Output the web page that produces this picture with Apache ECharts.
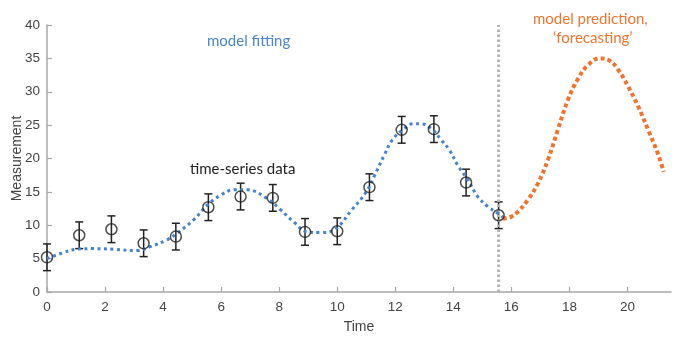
<!DOCTYPE html>
<html>
<head>
<meta charset="utf-8">
<script src="https://cdn.jsdelivr.net/npm/echarts@6/dist/echarts.min.js"></script>
<style>
  html, body { margin: 0; padding: 0; background: #fff; }
  #main { width: 698px; height: 345px; }
</style>
</head>
<body>
<div id="main"></div>
<script>
// measured time-series (circles + error bars)
var times = [0, 1.11, 2.22, 3.33, 4.44, 5.56, 6.67, 7.78, 8.89, 10, 11.11, 12.22, 13.33, 14.44, 15.56];
var measured = [5.2, 8.5, 9.4, 7.3, 8.3, 12.7, 14.3, 14.1, 9.0, 9.1, 15.7, 24.3, 24.4, 16.4, 11.5];
var errors = [2, 2, 2, 2, 2, 2, 2, 2, 2, 2, 2, 2, 2, 2, 2];

// model fit (blue dotted)
var fitX = [0, 0.5, 1.0, 1.6, 2.3, 3.1, 3.56, 4.13, 4.48, 5.05, 5.52, 5.98, 6.44, 6.9, 7.59, 8.05, 8.5, 8.97, 9.43, 9.89,
  10.5, 11.0, 11.27, 11.62, 11.9, 12.31, 12.6, 12.88, 13.29, 13.58, 13.86, 14.15, 14.5, 14.84, 15.19, 15.53, 15.7];
var fitY = [5.0, 5.8, 6.4, 6.5, 6.4, 6.2, 6.8, 7.8, 8.8, 10.8, 13.0, 14.5, 15.3, 15.3, 14.0, 12.3, 10.5, 9.0, 8.9, 9.3,
  12.3, 15.0, 17.3, 20.5, 22.8, 24.5, 25.2, 25.2, 24.3, 22.8, 21.3, 19.0, 16.8, 14.3, 12.8, 11.8, 11.2];

// forecast (orange dotted)
var predX = [15.7, 16.0, 16.22, 16.57, 16.92, 17.26, 17.6, 17.95, 18.3, 18.64, 19.04, 19.33, 19.68, 20.02, 20.37, 20.71, 21.06, 21.25];
var predY = [11.0, 11.3, 12.0, 13.8, 16.3, 19.8, 24.3, 28.8, 32.0, 34.0, 35.0, 34.8, 33.3, 30.8, 27.8, 24.3, 20.6, 18.0];

var xTicks = [0, 2, 4, 6, 8, 10, 12, 14, 16, 18, 20];
var splitX = times[times.length - 1];

function pairs(xs, ys) {
  var out = [];
  for (var i = 0; i < xs.length; i++) out.push([xs[i], ys[i]]);
  return out;
}

var errData = [];
for (var i = 0; i < times.length; i++) {
  errData.push([times[i], measured[i] - errors[i], measured[i] + errors[i]]);
}

var chart = echarts.init(document.getElementById('main'));
var axisGray = '#a8a8a8';
var labelFont = { color: '#444', fontSize: 13.5, fontFamily: 'Liberation Sans' };

var option = {
  animation: false,
  grid: { left: 47, right: 27, top: 25, bottom: 53, containLabel: false, outerBoundsMode: 'none' },
  xAxis: {
    type: 'value', min: 0, max: 21.5,
    name: 'Time', nameLocation: 'middle', nameGap: 28, nameMoveOverlap: false,
    nameTextStyle: { color: '#444', fontSize: 14, fontFamily: 'Liberation Sans' },
    axisLine: { show: true, lineStyle: { color: axisGray, width: 1.5 } },
    axisTick: { show: true, inside: true, length: 5, customValues: xTicks, lineStyle: { color: axisGray, width: 1.2 } },
    axisLabel: Object.assign({ customValues: xTicks, margin: 8 }, labelFont),
    splitLine: { show: false }
  },
  yAxis: {
    type: 'value', min: 0, max: 40, interval: 5,
    name: 'Measurement', nameLocation: 'middle', nameGap: 23, nameMoveOverlap: false,
    nameTextStyle: { color: '#444', fontSize: 14, fontFamily: 'Liberation Sans' },
    axisLine: { show: true, lineStyle: { color: axisGray, width: 1.5 } },
    axisTick: { show: true, inside: true, length: 5, lineStyle: { color: axisGray, width: 1.2 } },
    axisLabel: Object.assign({ margin: 7 }, labelFont),
    splitLine: { show: false }
  },
  series: [
    {
      name: 'split', type: 'line', data: [[splitX, 0], [splitX, 40]],
      symbol: 'none', silent: true,
      lineStyle: { color: '#b4b4b4', width: 3, type: [2.5, 2.5], cap: 'butt' }
    },
    {
      name: 'fit', type: 'line', data: pairs(fitX, fitY), smooth: 0.4,
      symbol: 'none',
      lineStyle: { color: '#4583cc', width: 3, type: [3, 3.5], cap: 'butt' }
    },
    {
      name: 'forecast', type: 'line', data: pairs(predX, predY), smooth: 0.4,
      symbol: 'none',
      lineStyle: { color: '#ee7530', width: 4, type: [4, 3], cap: 'butt' }
    },
    {
      name: 'err', type: 'custom', data: errData,
      renderItem: function (params, api) {
        var x = api.value(0);
        var lo = api.coord([x, api.value(1)]);
        var hi = api.coord([x, api.value(2)]);
        var w = 4;
        var st = { stroke: '#222', lineWidth: 1.5 };
        return {
          type: 'group',
          children: [
            { type: 'line', shape: { x1: lo[0], y1: lo[1], x2: hi[0], y2: hi[1] }, style: st },
            { type: 'line', shape: { x1: lo[0] - w, y1: lo[1], x2: lo[0] + w, y2: lo[1] }, style: st },
            { type: 'line', shape: { x1: hi[0] - w, y1: hi[1], x2: hi[0] + w, y2: hi[1] }, style: st }
          ]
        };
      },
      z: 3
    },
    {
      name: 'data', type: 'scatter', data: pairs(times, measured),
      symbol: 'circle', symbolSize: 11,
      itemStyle: { color: 'rgba(255,255,255,0)', borderColor: '#222', borderWidth: 1.5 },
      z: 4
    }
  ],
  graphic: [
    { type: 'text', left: 207, top: 34, style: { text: 'model fitting', fill: '#4a86c8', fontSize: 15, fontFamily: 'Lato' } },
    { type: 'text', left: 190, top: 162, style: { text: 'time-series data', fill: '#222', fontSize: 15, fontFamily: 'Lato' } },
    { type: 'text', left: 533, top: 12, style: { text: 'model prediction,', fill: '#ee7530', fontSize: 15, fontFamily: 'Lato' } },
    { type: 'text', left: 553, top: 31, style: { text: '\u2018forecasting\u2019', fill: '#ee7530', fontSize: 15, fontFamily: 'Lato' } }
  ]
};

chart.setOption(option);
</script>
</body>
</html>
